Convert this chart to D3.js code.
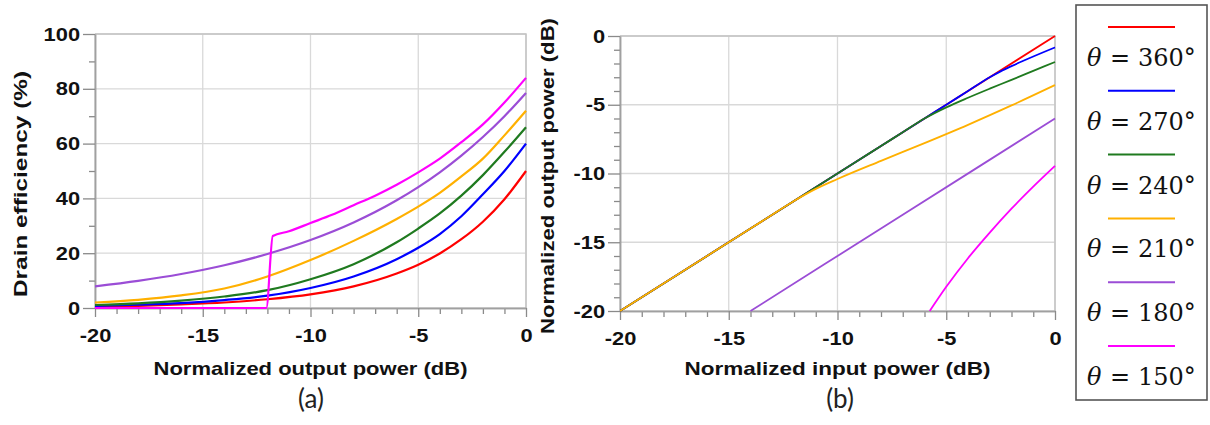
<!DOCTYPE html>
<html>
<head>
<meta charset="utf-8">
<script src="https://cdn.jsdelivr.net/npm/d3@7"></script>
<style>
  body { margin: 0; background: #fff; }
  svg text { font-family: "Liberation Sans", Arial, sans-serif; }
</style>
</head>
<body>
<svg id="chart" width="1210" height="425"></svg>
<script>
// ---- data ----
const angles = ["360°", "270°", "240°", "210°", "180°", "150°"];

// (a) drain efficiency (%) vs normalized output power (dB)
const effDb = [-20, -18, -16, -14, -12, -10, -8, -6, -5, -4, -3, -2, -1, 0];
const eff360 = [0.5, 0.8, 1.3, 2.0, 3.2, 5.0, 7.9, 12.6, 15.8, 19.9, 25.1, 31.5, 39.7, 50];
const eff270 = [0.8, 1.2, 1.8, 2.9, 4.5, 7.3, 11.5, 17.8, 22, 27, 33.5, 41.5, 50, 60];
const eff240 = [1.1, 1.7, 2.7, 4.2, 6.5, 10.5, 16, 24, 29, 34.5, 41, 48.5, 57, 66];
const eff210 = [2.0, 3.0, 4.6, 7.1, 11.5, 17.5, 24.5, 32.5, 37, 42, 48, 54.5, 63, 72];
const eff180 = [7.9, 9.9, 12.4, 15.6, 19.7, 24.8, 31.2, 39.3, 44.1, 49.5, 55.6, 62.4, 70, 78.5];
const eff150Db = [-20, -16, -12.05, -11.75, -11, -10, -9, -8, -7, -6, -5, -4, -3, -2, -1, 0];
const eff150 = [0, 0, 0, 26.3, 28, 31, 34, 37.5, 41, 45, 49.5, 54.5, 60.5, 67, 75, 84];

// (b) normalized output power (dB) vs normalized input power (dB)
const pin360 = [-20, -10, 0];
const pout360 = [-20, -10, 0];
const pin270 = [-20, -10, -6, -5, -4, -3, -2.5, -2, -1, 0];
const pout270 = [-20, -10, -6, -5, -4, -3, -2.57, -2.19, -1.49, -0.83];
const pin240 = [-20, -12, -9, -8, -7, -6, -5, -4, -3, -2, -1, 0];
const pout240 = [-20, -12, -9, -8, -7, -6, -5.19, -4.49, -3.83, -3.19, -2.54, -1.89];
const pin210 = [-20, -16, -14, -13, -12, -11, -10, -8, -6, -4, -2, 0];
const pout210 = [-20, -16, -14, -13, -12, -11.12, -10.4, -9.08, -7.79, -6.46, -5.05, -3.57];
const pin180 = [-14, -7, 0];
const pout180 = [-20, -13, -6];
const pin150 = [-5.76, -5, -4, -3, -2, -1, 0];
const pout150 = [-20, -18.24, -16.16, -14.3, -12.56, -10.96, -9.45];

const xTicksDb = [-20, -15, -10, -5, 0];
const effTicks = [0, 20, 40, 60, 80, 100];
const poutTicks = [-20, -15, -10, -5, 0];

// ---- styling ----
const colors = ["#ff0000", "#0000ff", "#1f7a1f", "#ffb000", "#9b4dd6", "#ff00ff"];
const svg = d3.select("#chart");
const SX = 1.15; // the figure's lettering is a little wider than Arial

const zip = (xs, ys) => xs.map((v, i) => [v, ys[i]]);

function panel(o) {
  const x = d3.scaleLinear().domain(o.xDom).range([o.left, o.right]);
  const y = d3.scaleLinear().domain(o.yDom).range([o.bottom, o.top]);
  const g = svg.append("g");

  // grid
  g.append("g").selectAll("line").data(o.xMajor).join("line")
    .attr("x1", d => x(d)).attr("x2", d => x(d))
    .attr("y1", o.top).attr("y2", o.bottom)
    .attr("stroke", "#d9d9d9").attr("stroke-width", 1.3);
  g.append("g").selectAll("line").data(o.yMajor).join("line")
    .attr("x1", o.left).attr("x2", o.right)
    .attr("y1", d => y(d)).attr("y2", d => y(d))
    .attr("stroke", "#d9d9d9").attr("stroke-width", 1.3);

  // frame top / right
  g.append("path")
    .attr("d", `M${o.left},${o.top}H${o.right}V${o.bottom}`)
    .attr("fill", "none").attr("stroke", "#c4c4c4").attr("stroke-width", 1.5);

  // minor ticks
  g.append("g").attr("transform", `translate(0,${o.bottom})`)
    .call(d3.axisBottom(x).tickValues(o.xMinor).tickSize(6).tickSizeOuter(0).tickFormat(""));
  g.append("g").attr("transform", `translate(${o.left},0)`)
    .call(d3.axisLeft(y).tickValues(o.yMinor).tickSize(6).tickSizeOuter(0).tickFormat(""));

  // major ticks + labels
  g.append("g").attr("class", "ax").attr("transform", `translate(0,${o.bottom})`)
    .call(d3.axisBottom(x).tickValues(o.xMajor).tickSize(9).tickSizeOuter(0)
      .tickPadding(12).tickFormat(d => String(d)));
  g.append("g").attr("class", "ax").attr("transform", `translate(${o.left},0)`)
    .call(d3.axisLeft(y).tickValues(o.yMajor).tickSize(12).tickSizeOuter(0)
      .tickPadding(1).tickFormat(d => String(d)));

  g.selectAll(".domain").attr("stroke", "#a0a0a0").attr("stroke-width", 1.5);
  g.selectAll(".tick line").attr("stroke", "#8a8a8a").attr("stroke-width", 1.3);
  g.selectAll(".ax text").attr("font-size", 19).attr("font-weight", "bold").attr("fill", "#111")
    .attr("transform", `scale(${SX},1)`);

  // curves
  g.append("clipPath").attr("id", o.id + "-clip").append("rect")
    .attr("x", o.left).attr("y", o.top - 2)
    .attr("width", o.right - o.left + 2).attr("height", o.bottom - o.top + 4);
  const line = d3.line().x(d => x(d[0])).y(d => y(d[1])).curve(d3.curveMonotoneX);
  g.append("g").attr("clip-path", `url(#${o.id}-clip)`)
    .selectAll("path").data(o.series).join("path")
    .attr("d", d => line(d.pts))
    .attr("fill", "none").attr("stroke", d => d.color)
    .attr("stroke-width", o.lw).attr("stroke-linejoin", "round");

  // titles
  g.append("text").attr("x", (o.left + o.right) / 2).attr("y", 375)
    .attr("text-anchor", "middle").attr("font-size", 19).attr("font-weight", "bold")
    .attr("textLength", o.xTitleLen).attr("lengthAdjust", "spacingAndGlyphs")
    .attr("fill", "#111").text(o.xTitle);
  g.append("text")
    .attr("transform", `translate(${o.yTitleX},${o.yTitleY}) rotate(-90)`)
    .attr("text-anchor", "middle").attr("font-size", 19).attr("font-weight", "bold")
    .attr("textLength", o.yTitleLen).attr("lengthAdjust", "spacingAndGlyphs")
    .attr("fill", "#111").text(o.yTitle);
  g.append("text").attr("x", o.capX).attr("y", 408)
    .attr("text-anchor", "middle").attr("font-size", 26)
    .style("font-family", "Lato, 'Open Sans', sans-serif")
    .attr("fill", "#222").text(o.caption);
}

const minorDb = d3.range(-20, 1).filter(v => v % 5 !== 0);

panel({
  id: "a", left: 95, right: 526, top: 34, bottom: 308,
  xDom: [-20, 0], yDom: [0, 100],
  xMajor: xTicksDb, xMinor: minorDb,
  yMajor: effTicks, yMinor: [10, 30, 50, 70, 90],
  lw: 2.2,
  xTitle: "Normalized output power (dB)", xTitleLen: 314,
  yTitle: "Drain efficiency (%)", yTitleX: 27, yTitleY: 184, yTitleLen: 226,
  caption: "(a)", capX: 311,
  series: [
    { color: colors[0], pts: zip(effDb, eff360) },
    { color: colors[1], pts: zip(effDb, eff270) },
    { color: colors[2], pts: zip(effDb, eff240) },
    { color: colors[3], pts: zip(effDb, eff210) },
    { color: colors[4], pts: zip(effDb, eff180) },
    { color: colors[5], pts: zip(eff150Db, eff150) }
  ]
});

panel({
  id: "b", left: 620, right: 1055, top: 36, bottom: 311,
  xDom: [-20, 0], yDom: [-20, 0],
  xMajor: xTicksDb, xMinor: minorDb,
  yMajor: poutTicks, yMinor: minorDb,
  lw: 1.8,
  xTitle: "Normalized input power (dB)", xTitleLen: 306,
  yTitle: "Normalized output power (dB)", yTitleX: 554, yTitleY: 176, yTitleLen: 316,
  caption: "(b)", capX: 840,
  series: [
    { color: colors[0], pts: zip(pin360, pout360) },
    { color: colors[1], pts: zip(pin270, pout270) },
    { color: colors[2], pts: zip(pin240, pout240) },
    { color: colors[3], pts: zip(pin210, pout210) },
    { color: colors[4], pts: zip(pin180, pout180) },
    { color: colors[5], pts: zip(pin150, pout150) }
  ]
});

// legend
const leg = svg.append("g");
leg.append("rect").attr("x", 1076).attr("y", 5).attr("width", 131).attr("height", 395)
  .attr("fill", "#fff").attr("stroke", "#555").attr("stroke-width", 1.6);
const items = leg.selectAll("g.item").data(angles).join("g")
  .attr("transform", (d, i) => `translate(0,${27 + i * 63.8})`);
items.append("line").attr("x1", 1108).attr("x2", 1175)
  .attr("stroke", (d, i) => colors[i]).attr("stroke-width", 2);
const lt = items.append("text").attr("y", 39).attr("font-size", 24)
  .style("font-family", "'DejaVu Serif', 'Liberation Serif', serif").attr("fill", "#111");
lt.append("tspan").attr("x", 1087).attr("font-style", "italic").text("θ");
lt.append("tspan").attr("x", 1110).text("=");
lt.append("tspan").attr("x", 1138).text(d => d);
</script>
</body>
</html>
